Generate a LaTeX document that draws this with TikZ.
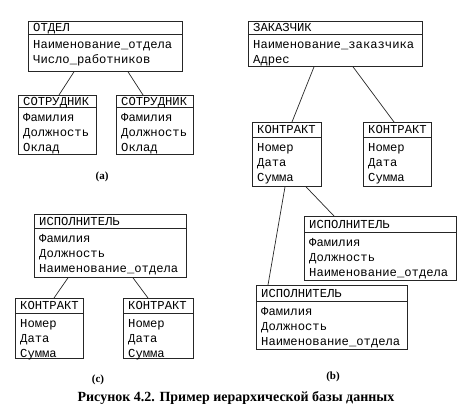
\documentclass[tikz,border=0pt]{standalone}
\usepackage{fontspec}
\setmainfont{Liberation Serif}
\newfontfamily\monof{Liberation Mono}
\usetikzlibrary{calc}
\tikzset{
  ebox/.style={draw=black!85, line width=0.8bp, inner sep=0pt, anchor=north west},
  eline/.style={draw=black!85, line width=0.8bp},
  link/.style={draw=black!85, line width=0.7bp},
  etext/.style={anchor=base west, inner sep=0pt, font=\monof\fontsize{12.2bp}{15bp}\selectfont},
  sublabel/.style={font=\bfseries\fontsize{11bp}{13bp}\selectfont, inner sep=0pt},
  caption/.style={font=\bfseries\fontsize{14bp}{16bp}\selectfont, inner sep=0pt}
}
\newcommand\entbox[8]{%
  \node[ebox, minimum width={(#4-#2)*1bp}, minimum height={(#5-#3)*1bp}] (#1) at (#2,#3) {};
  \draw[eline] ($(#1.north west)+(0,#6-#3)$) -- ($(#1.north east)+(0,#6-#3)$);
  \node[etext] (#1-h) at ({#2+5}, {(#3+#6)/2+4}) {#7};
  \foreach \t [count=\i] in {#8} {\node[etext] (#1-\i) at ({#2+5}, {#6+10+15*(\i-1)+4}) {\t};}
}
\begin{document}
\begin{tikzpicture}[x=1bp,y=-1bp]
\useasboundingbox (0,0) rectangle (475,418);
% (a)
\entbox{A0}{28}{21}{182}{71}{34}{ОТДЕЛ}{Наименование\_отдела,Число\_работников}
\entbox{A1}{18}{95}{96}{154}{107}{СОТРУДНИК}{Фамилия,Должность,Оклад}
\entbox{A2}{116}{95}{193}{154}{107}{СОТРУДНИК}{Фамилия,Должность,Оклад}
\draw[link] ($(A0.south west)+(46,0)$) -- ($(A1.north west)+(41,0)$);
\draw[link] ($(A0.south west)+(100,0)$) -- ($(A2.north west)+(27,0)$);
\node[sublabel] (la) at (102,177) {(a)};
% (b)
\entbox{B0}{248}{21}{422}{66}{34}{ЗАКАЗЧИК}{Наименование\_заказчика,Адрес}
\entbox{B1}{252}{122}{321}{186}{137}{КОНТРАКТ}{Номер,Дата,Сумма}
\entbox{B2}{363}{122}{431}{186}{137}{КОНТРАКТ}{Номер,Дата,Сумма}
\entbox{B3}{304}{216}{456}{280}{232}{ИСПОЛНИТЕЛЬ}{Фамилия,Должность,Наименование\_отдела}
\entbox{B4}{256}{285}{407}{349}{301}{ИСПОЛНИТЕЛЬ}{Фамилия,Должность,Наименование\_отдела}
\draw[link] ($(B0.south west)+(66,0)$) -- ($(B1.north west)+(40,0)$);
\draw[link] ($(B0.south west)+(105,0)$) -- ($(B2.north west)+(31,0)$);
\draw[link] ($(B1.south west)+(33,0)$) -- ($(B4.north west)+(12,0)$);
\draw[link] ($(B1.south west)+(54,0)$) -- ($(B3.north west)+(30,0)$);
\node[sublabel] (lb) at (333,377) {(b)};
% (c)
\entbox{C0}{34}{214}{186}{277}{228}{ИСПОЛНИТЕЛЬ}{Фамилия,Должность,Наименование\_отдела}
\entbox{C1}{15}{298}{83}{358}{313}{КОНТРАКТ}{Номер,Дата,Сумма}
\entbox{C2}{123}{298}{193}{358}{313}{КОНТРАКТ}{Номер,Дата,Сумма}
\draw[link] ($(C0.south west)+(34,0)$) -- ($(C1.north west)+(39,0)$);
\draw[link] ($(C0.south west)+(99,0)$) -- ($(C2.north west)+(25,0)$);
\node[sublabel] (lc) at (98,380) {(c)};
\node[caption] (cap) at (236,398) {Рисунок 4.2. Пример иерархической базы данных};
\end{tikzpicture}
\end{document}
